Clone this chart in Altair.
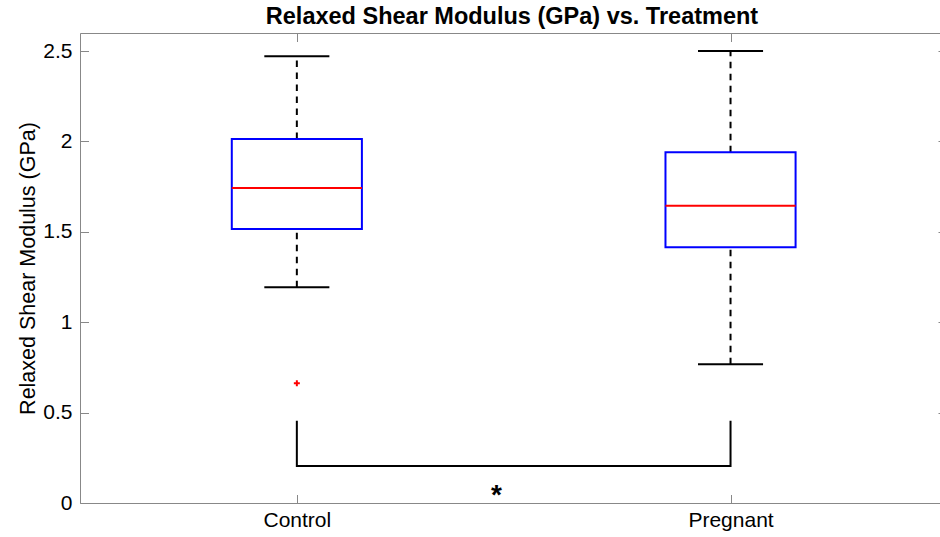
import altair as alt
import pandas as pd

# ---------------- data ----------------
groups = ["Control", "Pregnant"]
positions = [1, 2]
lower_whisker = [1.194, 0.768]
q1 = [1.516, 1.415]
median = [1.742, 1.645]
q3 = [2.014, 1.941]
upper_whisker = [2.472, 2.501]

outlier_group = ["Control"]
outlier_value = [0.662]

bracket_x = [1, 1, 2, 2]
bracket_y = [0.45, 0.205, 0.205, 0.45]

sig_label = ["*"]
sig_x = [1.46]
sig_y = [0.04]

y_ticks = [0, 0.5, 1, 1.5, 2, 2.5]

# ---------------- tables ----------------
stats = pd.DataFrame({
    "group": groups, "pos": positions, "lower": lower_whisker, "q1": q1,
    "median": median, "q3": q3, "upper": upper_whisker,
})
pos_of = dict(zip(groups, positions))
outliers = pd.DataFrame({"group": outlier_group,
                         "pos": [pos_of[g] for g in outlier_group],
                         "value": outlier_value})
bracket = pd.DataFrame({"bx": bracket_x, "by": bracket_y,
                        "idx": list(range(len(bracket_x)))})
sig = pd.DataFrame({"label": sig_label, "sx": sig_x, "sy": sig_y})

BOX_HALF = 0.15
CAP_HALF = 0.075
TXT = "#262626"
FONT = "Liberation Sans"

xs = alt.Scale(domain=[0.5, 2.483], nice=False, zero=False)
ys = alt.Scale(domain=[0, 2.6], nice=False, zero=False)

label_expr = " : ".join(
    f"datum.value == {p} ? '{g}'" for p, g in zip(positions[:-1], groups[:-1])
) + f" : '{groups[-1]}'"

ax_y_main = alt.Axis(orient="left", offset=-8.5, tickSize=8.5, domain=False, grid=False,
                     values=y_ticks, format="~g", labelPadding=8, labelFontSize=21,
                     title="Relaxed Shear Modulus (GPa)", titleFontSize=21.5,
                     titleFontWeight="normal", titlePadding=3)
ax_x_main = alt.Axis(orient="bottom", offset=-8.5, tickSize=8.5, domain=False, grid=False,
                     values=positions, labelExpr=label_expr, labelPadding=6,
                     labelFontSize=21, title=None)
ax_y_right = alt.Axis(orient="right", offset=-2, tickSize=2, domain=False, labels=False,
                      grid=False, values=y_ticks, title=None)
ax_x_top = alt.Axis(orient="top", offset=-8.5, tickSize=8.5, domain=False, labels=False,
                    grid=False, values=positions, title=None)
ax_y_frame = alt.Axis(orient="left", ticks=False, labels=False, domain=True, grid=False, title=None)
ax_x_frame_b = alt.Axis(orient="bottom", ticks=False, labels=False, domain=True, grid=False, title=None)
ax_x_frame_t = alt.Axis(orient="top", ticks=False, labels=False, domain=True, grid=False, title=None)

base = alt.Chart(stats).transform_calculate(
    box_l=f"datum.pos - {BOX_HALF}", box_r=f"datum.pos + {BOX_HALF}",
    cap_l=f"datum.pos - {CAP_HALF}", cap_r=f"datum.pos + {CAP_HALF}",
)

dash = [6.5, 5.5]
whisk_up = base.mark_rule(color="black", strokeWidth=2, strokeDash=dash).encode(
    x=alt.X("pos:Q", scale=xs, axis=ax_x_main),
    y=alt.Y("q3:Q", scale=ys, axis=ax_y_main),
    y2="upper:Q",
)
whisk_lo = base.mark_rule(color="black", strokeWidth=2, strokeDash=dash).encode(
    x=alt.X("pos:Q", scale=xs, axis=ax_x_top),
    y=alt.Y("lower:Q", scale=ys, axis=ax_y_right),
    y2="q1:Q",
)
caps = base.transform_fold(["lower", "upper"], as_=["kind", "val"]).mark_rule(
    color="black", strokeWidth=2).encode(
    x=alt.X("cap_l:Q", scale=xs, axis=ax_x_frame_b),
    x2="cap_r:Q",
    y=alt.Y("val:Q", scale=ys, axis=ax_y_frame),
)
box = base.mark_rect(fill="white", fillOpacity=0, stroke="#0000FF", strokeWidth=2).encode(
    x=alt.X("box_l:Q", scale=xs, axis=ax_x_frame_t),
    x2="box_r:Q",
    y=alt.Y("q1:Q", scale=ys, axis=None),
    y2="q3:Q",
)
med = base.mark_rule(color="#FF0000", strokeWidth=2).encode(
    x=alt.X("box_l:Q", scale=xs, axis=None),
    x2="box_r:Q",
    y=alt.Y("median:Q", scale=ys, axis=None),
)
outl = alt.Chart(outliers).mark_point(
    shape="M-1,0L1,0M0,-1L0,1", size=36, color="#FF0000", strokeWidth=2, filled=False,
    opacity=1).encode(
    x=alt.X("pos:Q", scale=xs, axis=None),
    y=alt.Y("value:Q", scale=ys, axis=None),
)
brk = alt.Chart(bracket).mark_line(color="black", strokeWidth=2, strokeJoin="miter",
                                   strokeCap="square").encode(
    x=alt.X("bx:Q", scale=xs, axis=None),
    y=alt.Y("by:Q", scale=ys, axis=None),
    order="idx:Q",
)
star = alt.Chart(sig).mark_text(fontSize=28, fontWeight="bold", color="black",
                                font=FONT, align="center", baseline="middle").encode(
    x=alt.X("sx:Q", scale=xs, axis=None),
    y=alt.Y("sy:Q", scale=ys, axis=None),
    text="label:N",
)

chart = alt.layer(whisk_up, whisk_lo, caps, box, med, outl, brk, star).resolve_axis(
    x="independent", y="independent"
).properties(
    width=860, height=470,
    autosize=alt.AutoSizeParams(type="none"),
    padding={"left": 80, "top": 33, "right": 0, "bottom": 34},
    title=alt.TitleParams("Relaxed Shear Modulus (GPa) vs. Treatment", fontSize=23.5,
                          fontWeight="bold", font=FONT, color="black", anchor="middle",
                          offset=4, dx=2),
).configure_view(stroke=None).configure_axis(
    domainColor=TXT, tickColor=TXT, labelColor=TXT, titleColor=TXT,
    labelFont=FONT, titleFont=FONT, domainWidth=1, tickWidth=1, grid=False,
).configure(background="white")

chart.save("out.html", embed_options={"renderer": "svg", "actions": False})
